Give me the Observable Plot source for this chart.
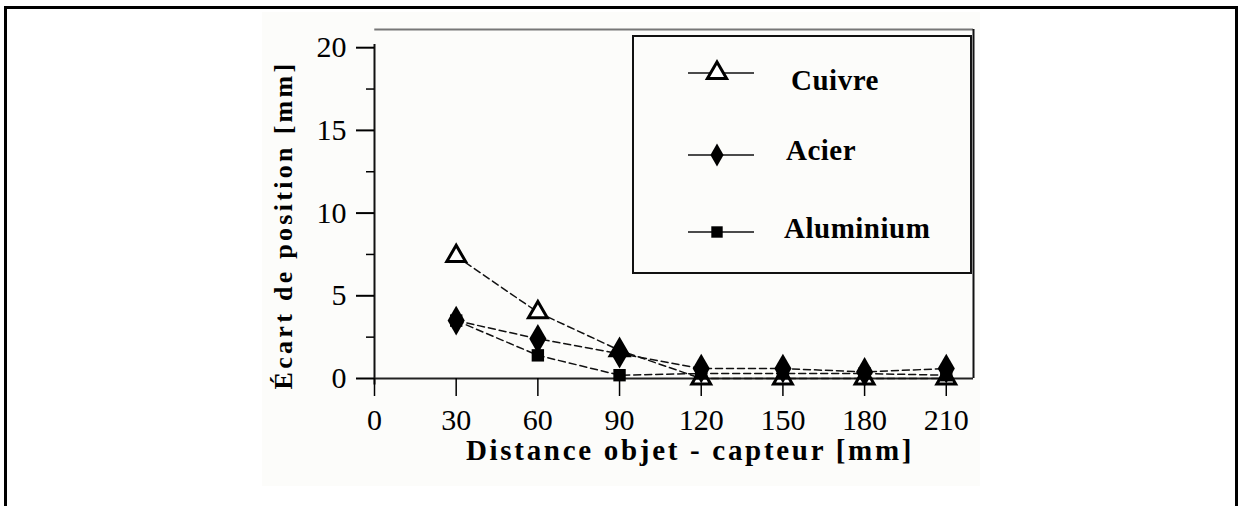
<!DOCTYPE html>
<html><head><meta charset="utf-8">
<script src="https://cdn.jsdelivr.net/npm/d3@7"></script>
<script src="https://cdn.jsdelivr.net/npm/@observablehq/plot@0.6"></script>
<style>
body{margin:0;background:#fff;}
#wrap{position:relative;width:1239px;height:506px;overflow:hidden;}
#frame{position:absolute;left:4px;top:6px;width:1228px;height:530px;border:3px solid #000;}
#paper{position:absolute;left:262px;top:12px;width:718px;height:474px;background:#fcfcfa;}
#chart{position:absolute;left:0;top:0;}
#legend{position:absolute;left:632px;top:35px;width:336px;height:235px;border:2px solid #111;}
.sw{position:absolute;left:52px;}
.lab{position:absolute;font-family:"Liberation Serif",serif;font-weight:bold;font-size:29px;line-height:29px;color:#000;letter-spacing:0.5px;}
</style></head>
<body>
<div id="wrap">
  <div id="frame"></div>
  <div id="paper"></div>
  <div id="chart"></div>
  <div id="legend"></div>
</div>
<script>
const distances = [30, 60, 90, 120, 150, 180, 210];
const cuivre = [7.4, 4.0, 1.7, 0.0, 0.0, 0.0, 0.0];
const acier = [3.5, 2.4, 1.5, 0.6, 0.6, 0.4, 0.6];
const aluminium = [3.5, 1.4, 0.2, 0.3, 0.3, 0.3, 0.2];
const seriesNames = ["Cuivre", "Acier", "Aluminium"];
const xTicks = [0, 30, 60, 90, 120, 150, 180, 210];
const yTicks = [0, 5, 10, 15, 20];
const yMinorTicks = [2.5, 7.5, 12.5, 17.5];
const xLabel = "Distance objet - capteur [mm]";
const yLabel = "Écart de position [mm]";

const valuesBySeries = {Cuivre: cuivre, Acier: acier, Aluminium: aluminium};
const table = seriesNames.flatMap(s => distances.map((d, i) => ({series: s, x: d, y: valuesBySeries[s][i]})));
const only = s => table.filter(d => d.series === s);

const plot = Plot.plot({
  width: 1239, height: 506,
  marginLeft: 374, marginRight: 266, marginTop: 29, marginBottom: 128,
  x: {domain: [0, 220]},
  y: {domain: [0, 21.1]},
  style: {fontFamily: "'Liberation Serif', serif", fontSize: "30px", background: "transparent", color: "#000"},
  marks: [
    Plot.ruleY([21.1], {x1: () => 0.1, x2: () => 220, stroke: "#777", strokeWidth: 2}),
    Plot.ruleX([220], {y1: () => 0, y2: () => 21.1, stroke: "#111", strokeWidth: 2}),
    Plot.ruleX([0], {y1: () => -0.4, y2: () => 20.2, stroke: "#111", strokeWidth: 2}),
    Plot.ruleY([0], {x1: () => 0, x2: () => 220, stroke: "#222", strokeWidth: 2}),
    Plot.axisX({ticks: xTicks, tickSize: 18, tickPadding: 12, fontSize: 30, tickFormat: d => String(d), strokeWidth: 1.5, label: null}),
    Plot.axisY({ticks: yTicks, tickSize: 18, tickPadding: 10, fontSize: 30, tickFormat: d => String(d), strokeWidth: 2, label: null}),
    Plot.axisY({ticks: yMinorTicks, tickSize: 8, text: null, strokeWidth: 1.5, label: null}),
    Plot.line(table, {x: "x", y: "y", z: "series", stroke: "#111", strokeWidth: 1.5, strokeDasharray: "7,4"}),
    Plot.dot(only("Cuivre"), {x: "x", y: "y", symbol: "triangle2", r: 9, stroke: "#000", fill: "#fff", strokeWidth: 3}),
    Plot.dot(only("Acier"), {x: "x", y: "y", symbol: "diamond", r: 9, fill: "#000"}),
    Plot.dot(only("Aluminium"), {x: "x", y: "y", symbol: "square", r: 7, fill: "#000"}),
    Plot.text([xLabel], {text: d => d, frameAnchor: "bottom", textAnchor: "middle", dx: 16, dy: 72, fontSize: 29, fontWeight: "bold", lineAnchor: "middle"}),
    Plot.text([yLabel], {text: d => d, frameAnchor: "left", textAnchor: "middle", rotate: -90, dx: -91, dy: 21, fontSize: 26, fontWeight: "bold", lineAnchor: "middle"})
  ]
});
// widen the two axis titles like the stretched lettering of the reference
d3.select(plot).selectAll("text").filter(function() { return this.textContent === xLabel; }).attr("letter-spacing", 2.7);
d3.select(plot).selectAll("text").filter(function() { return this.textContent === yLabel; }).attr("letter-spacing", 3.3);
document.getElementById("chart").appendChild(plot);

// Legend
const legend = document.getElementById("legend");
const legendRows = [
  {name: "Cuivre", sym: d3.symbolTriangle, size: 160, fill: "#fff", stroke: "#000", sw: 3, lineTop: 36, textTop: 29, textLeft: 157},
  {name: "Acier", sym: d3.symbolDiamond, size: 150, fill: "#000", stroke: "none", sw: 0, lineTop: 118, textTop: 99, textLeft: 152},
  {name: "Aluminium", sym: d3.symbolSquare, size: 130, fill: "#000", stroke: "none", sw: 0, lineTop: 195, textTop: 177, textLeft: 150}
];
for (const r of legendRows) {
  const svg = d3.create("svg").attr("width", 70).attr("height", 30).attr("class", "sw").style("top", (r.lineTop - 15) + "px");
  svg.append("line").attr("x1", 2).attr("x2", 68).attr("y1", 15).attr("y2", 15).attr("stroke", "#111").attr("stroke-width", 1.5);
  svg.append("path").attr("d", d3.symbol(r.sym, r.size)()).attr("transform", "translate(31,15)")
    .attr("fill", r.fill).attr("stroke", r.stroke).attr("stroke-width", r.sw);
  legend.appendChild(svg.node());
  const t = document.createElement("div");
  t.className = "lab"; t.textContent = r.name;
  t.style.left = r.textLeft + "px"; t.style.top = r.textTop + "px";
  legend.appendChild(t);
}
</script>
</body></html>
